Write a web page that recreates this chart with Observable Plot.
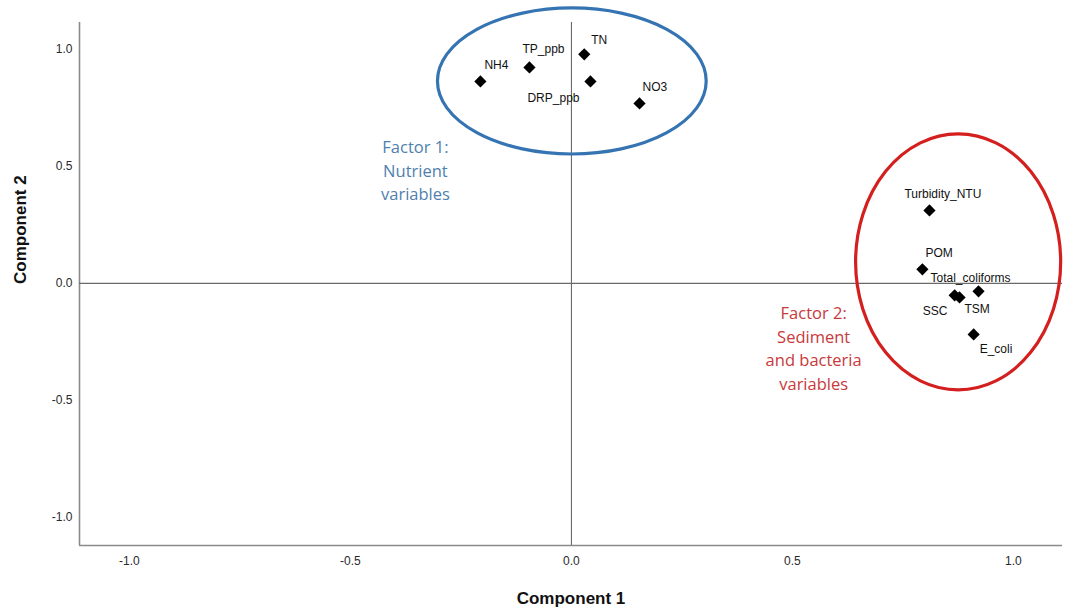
<!DOCTYPE html>
<html>
<head>
<meta charset="utf-8">
<script src="https://cdn.jsdelivr.net/npm/d3@7"></script>
<script src="https://cdn.jsdelivr.net/npm/@observablehq/plot@0.6"></script>
<style>
  html, body { margin: 0; padding: 0; background: #fff; }
  #chart { width: 1068px; height: 610px; }
</style>
</head>
<body>
<div id="chart"></div>
<script>
// Variables and their loadings (component 1, component 2)
const variables = ["NH4", "TP_ppb", "TN", "DRP_ppb", "NO3", "Turbidity_NTU", "POM", "Total_coliforms", "SSC", "TSM", "E_coli"];
const component1 = [-0.206, -0.095, 0.029, 0.043, 0.154, 0.810, 0.794, 0.921, 0.867, 0.878, 0.910];
const component2 = [0.863, 0.923, 0.979, 0.863, 0.769, 0.312, 0.060, -0.034, -0.051, -0.060, -0.218];

const xTicks = [-1.0, -0.5, 0.0, 0.5, 1.0];
const yTicks = [-1.0, -0.5, 0.0, 0.5, 1.0];

// Factor group annotations
const factorNames = ["Factor 1:\nNutrient\nvariables", "Factor 2:\nSediment\nand bacteria\nvariables"];
const factorTextX = [-0.353, 0.548];
const factorTextY = [0.488, -0.272];
const factorEllipseCx = [0.002, 0.876];
const factorEllipseCy = [0.863, 0.090];
const factorEllipseRx = [0.304, 0.232];
const factorEllipseRy = [0.312, 0.547];
const factorTextColors = ["#4f7fae", "#c8393b"];
const factorEllipseColors = ["#3574b2", "#d41f1f"];

// label placement (pixel offsets from the point)
const labelOffset = {
  "NH4": [4, -16], "TP_ppb": [-7, -18], "TN": [7, -14], "DRP_ppb": [-63, 17],
  "NO3": [3, -16], "Turbidity_NTU": [-25, -16], "POM": [3, -16],
  "Total_coliforms": [-48, -13], "SSC": [-32, 16], "TSM": [5, 12], "E_coli": [6, 15]
};

const rows = variables.map((v, i) => ({name: v, c1: component1[i], c2: component2[i]}));
const factors = factorNames.map((t, i) => ({text: t, x: factorTextX[i], y: factorTextY[i], color: factorTextColors[i]}));

const xDomain = [-1.113, 1.111];
const yDomain = [-1.12, 1.115];

const fmt = d => d.toFixed(1);

const plot = Plot.plot({
  width: 1068,
  height: 610,
  marginLeft: 79,
  marginRight: 6,
  marginTop: 22,
  marginBottom: 65,
  style: {fontFamily: "'Liberation Sans', Arial, sans-serif", fontSize: "12px", background: "#fff", color: "#2a2a2a"},
  x: {domain: xDomain, ticks: xTicks, tickFormat: fmt, tickSize: 0, tickPadding: 11, label: null},
  y: {domain: yDomain, ticks: yTicks, tickFormat: fmt, tickSize: 0, tickPadding: 7, label: null},
  marks: [
    Plot.ruleX([xDomain[0]], {stroke: "#8a8a8a", strokeWidth: 1.6}),
    Plot.ruleY([yDomain[0]], {stroke: "#8a8a8a", strokeWidth: 1.6}),
    Plot.ruleX([0], {stroke: "#6a6a6a", strokeWidth: 1.1}),
    Plot.ruleY([0], {stroke: "#6a6a6a", strokeWidth: 1.1}),
    Plot.dot(rows, {x: "c1", y: "c2", symbol: "diamond2", r: 5.5, fill: "#000", stroke: "none"}),
    ...rows.map(r => Plot.text([r], {
      x: "c1", y: "c2", text: "name", textAnchor: "start",
      dx: labelOffset[r.name][0], dy: labelOffset[r.name][1],
      fill: "#111", fontSize: 12
    })),
    ...factors.map(f => Plot.text([f], {
      x: "x", y: "y", text: "text", fill: f.color, fontSize: 16.5,
      fontFamily: "'Open Sans', sans-serif", lineHeight: 1.42, textAnchor: "middle"
    })),
    Plot.text(["Component 1"], {frameAnchor: "bottom", dy: 58, text: d => d, fontWeight: "bold", fontSize: 17, fill: "#111"}),
    Plot.text(["Component 2"], {frameAnchor: "left", dx: -59, rotate: -90, text: d => d, fontWeight: "bold", fontSize: 17, fill: "#111"})
  ]
});

// draw factor ellipses through the plot's own scales
const sx = plot.scale("x"), sy = plot.scale("y");
const svg = d3.select(plot.tagName.toLowerCase() === "svg" ? plot : plot.querySelector("svg"));
svg.style("overflow", "visible");
factorEllipseCx.forEach((cx, i) => {
  const px = sx.apply(cx), py = sy.apply(factorEllipseCy[i]);
  const rx = Math.abs(sx.apply(cx + factorEllipseRx[i]) - px);
  const ry = Math.abs(sy.apply(factorEllipseCy[i] + factorEllipseRy[i]) - py);
  svg.append("ellipse")
    .attr("cx", px).attr("cy", py).attr("rx", rx).attr("ry", ry)
    .attr("fill", "none").attr("stroke", factorEllipseColors[i]).attr("stroke-width", 3.2);
});

document.getElementById("chart").appendChild(plot);
</script>
</body>
</html>
